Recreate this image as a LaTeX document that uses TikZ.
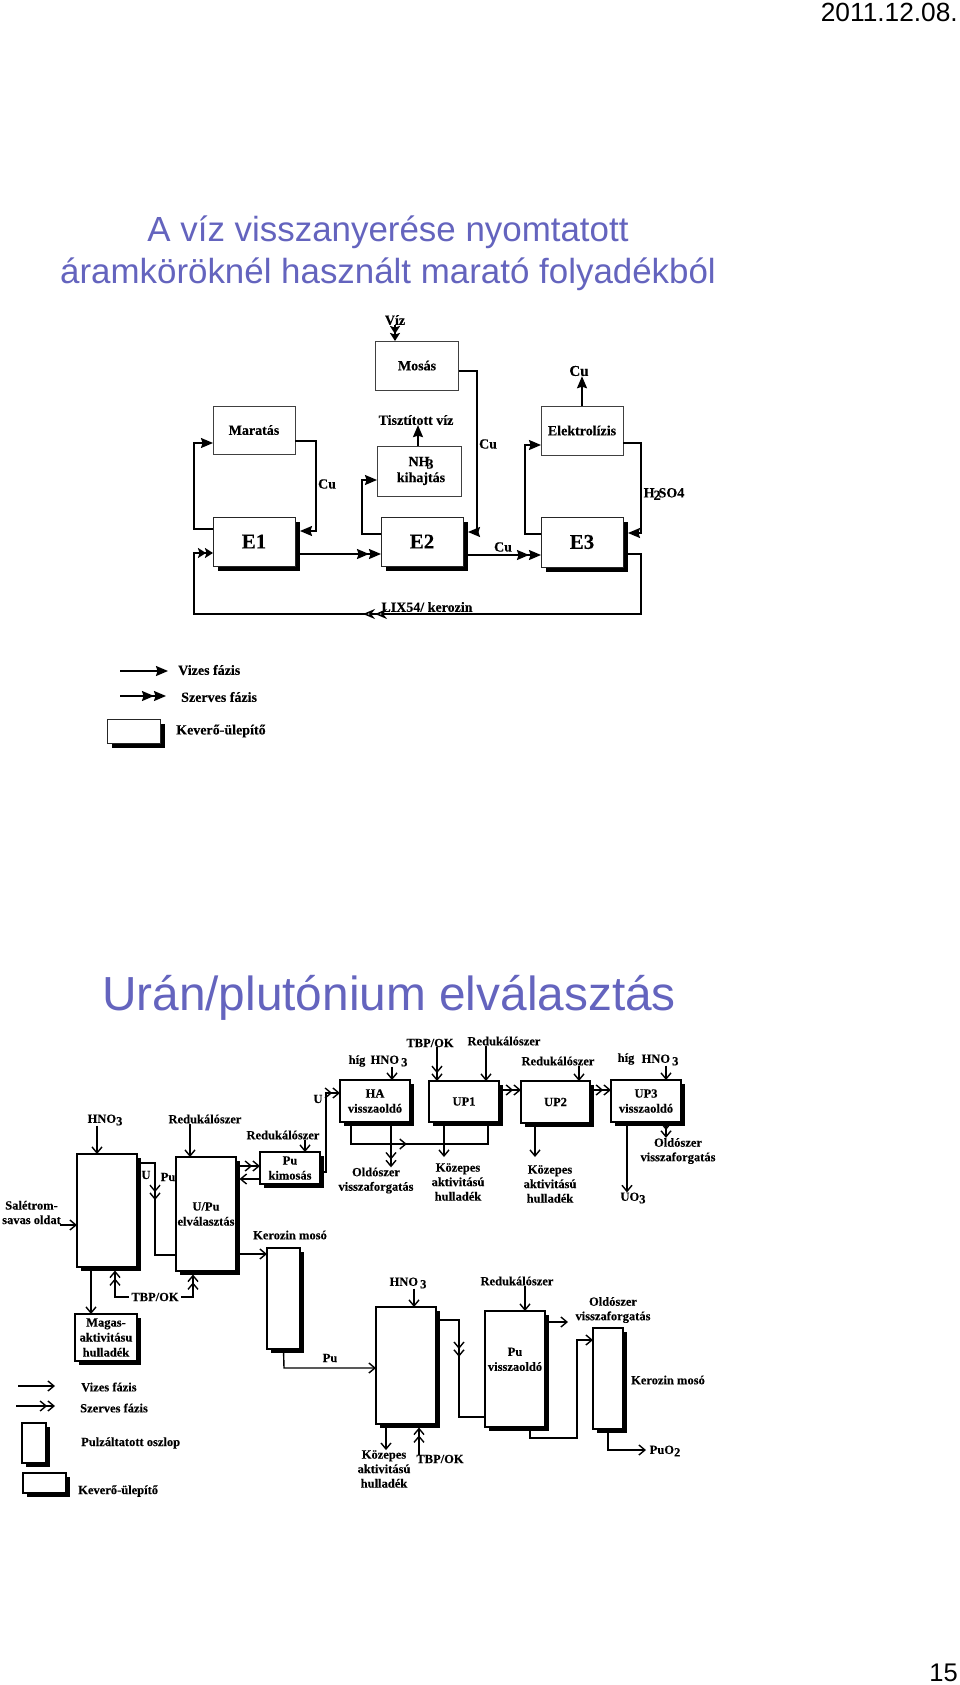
\documentclass[tikz,border=0pt]{standalone}
\usepackage{fontspec}
\setmainfont[BoldFeatures={FakeBold=0.2}]{Liberation Serif}
\newfontfamily\slidefont{Liberation Sans}
\usetikzlibrary{arrows.meta, shadows, decorations.markings}
\definecolor{myviolet}{HTML}{6464BE}
\newcommand{\low}[1]{\raisebox{-2.5pt}{#1}}

\begin{document}
\begin{tikzpicture}[x=1pt, y=-1pt,
  plainbox/.style={draw=black!75, fill=white, line width=0.7pt, inner sep=0pt, outer sep=0pt, align=center,
    minimum width=#1, font=\bfseries\fontsize{14}{16}\selectfont},
  ebox/.style={draw=black!85, fill=white, line width=0.8pt, inner sep=0pt, outer sep=0pt, align=center,
    minimum width=#1, font=\bfseries\fontsize{21}{22}\selectfont,
    general shadow={shadow xshift=5pt, shadow yshift=-5pt, fill=black}},
  box/.style={draw, fill=white, line width=1.2pt, inner sep=0pt, outer sep=0pt, align=center,
    minimum width=#1, font=\bfseries\fontsize{12.5}{15}\selectfont,
    general shadow={shadow xshift=3.5pt, shadow yshift=-3.5pt, fill=black}},
  lab/.style={inner sep=0pt, align=center, font=\bfseries\fontsize{12.5}{14.5}\selectfont},
  toplab/.style={inner sep=0pt, align=center, font=\bfseries\fontsize{14}{16}\selectfont},
  title/.style={inner sep=0pt, text=myviolet, font=\slidefont\fontsize{#1}{#1}\selectfont},
  pageno/.style={inner sep=0pt, font=\slidefont\fontsize{#1}{#1}\selectfont},
  aq/.style={-{Stealth[length=12pt, width=10pt, inset=1.5pt]}, line width=1.6pt},
  org/.style={-{Stealth[length=12pt, width=10pt, inset=1.5pt]Stealth[length=12pt, width=10pt, inset=1.5pt]}, line width=1.6pt},
  orgshort/.style={-{Stealth[length=8pt, width=10pt, inset=1.5pt, sep=-1pt]Stealth[length=8pt, width=10pt, inset=1.5pt]}, line width=1.6pt},
  aqb/.style={-{Straight Barb[length=6pt, width=10pt]}, line width=1.4pt},
  orgb/.style={-{Straight Barb[length=6pt, width=10pt]Straight Barb[length=6pt, width=10pt]}, line width=1.4pt},
  midaq/.style={postaction={decorate, decoration={markings, mark=at position #1 with {\arrow{Straight Barb[length=6pt, width=10pt]}}}}},
  midorg/.style={postaction={decorate, decoration={markings, mark=at position #1 with {\arrow{Straight Barb[length=6pt, width=10pt]Straight Barb[length=6pt, width=10pt]}}}}},
  midsolid/.style={postaction={decorate, decoration={markings, mark=at position #1 with {\arrow{Stealth[length=12pt, width=10pt, open, fill=white]Stealth[length=12pt, width=10pt, open, fill=white]}}}}}
]
\useasboundingbox (0,0) rectangle (960,1685);

% header, titles
\node[pageno=26.3, anchor=east] (date) at (958,12) {2011.12.08.};
\node[pageno=25.5, anchor=east] (pagenum) at (958,1673) {15};
\node[title=34.9] (titleone) at (388,232) {A víz visszanyerése nyomtatott};
\node[title=34.9] (titletwo) at (388,274) {áramköröknél használt marató folyadékból};
\node[title=47.8] (titlethree) at (389,998) {Urán/plutónium elválasztás};

% upper diagram
\node[plainbox=83pt, minimum height=49pt] (mosas) at (417,365.5) {Mosás};
\node[plainbox=82pt, minimum height=48pt] (maratas) at (254,430) {Maratás};
\node[plainbox=84pt, minimum height=50pt] (nhbox) at (419,471) {\kern4pt NH\kern-3pt\low{3}\\\kern4pt kihajtás};
\node[plainbox=82pt, minimum height=49pt] (elektro) at (582,430.5) {Elektrolízis};
\node[ebox=82pt, minimum height=49pt] (eone) at (254,541.5) {E1};
\node[ebox=82pt, minimum height=49pt] (etwo) at (422,541.5) {E2};
\node[ebox=82pt, minimum height=50pt] (ethree) at (582,542) {E3};

\node[toplab] (viz) at (395,320) {Víz};
\node[toplab, font=\bfseries\fontsize{15}{16}\selectfont] (cutop) at (579,371) {Cu};
\node[toplab] (tiszta) at (416,420) {Tisztított víz};
\node[toplab] (cuone) at (327,484) {Cu};
\node[toplab] (cutwo) at (488,444) {Cu};
\node[toplab] (cuthree) at (503,547) {Cu};
\node[toplab] (hso) at (664,494) {H\kern-1pt\low{2}\kern-2pt SO4};
\node[toplab] (lix) at (427,607) {LIX54/ kerozin};

\draw[orgshort] (viz.south -| 395,0) -- (mosas.north -| 395,0);
\draw[aq] (elektro.north -| 582,0) -- (cutop.south -| 582,0);
\draw[aq] (nhbox.north -| 418,0) -- (tiszta.south -| 418,0);
\draw[aq] (mosas.east |- 0,371) -- (477,371) -- (477,532) -- ([xshift=5pt]etwo.east |- 0,532);
\draw[aq] (maratas.east |- 0,441) -- (316,441) -- (316,531) -- ([xshift=5pt]eone.east |- 0,531);
\draw[aq] (elektro.east |- 0,443) -- (641,443) -- (641,533) -- ([xshift=5pt]ethree.east |- 0,533);
\draw[aq] (eone.west |- 0,529) -- (194,529) -- (194,443) -- (maratas.west |- 0,443);
\draw[aq] (etwo.west |- 0,534) -- (362,534) -- (362,480) -- (nhbox.west |- 0,480);
\draw[aq] (ethree.west |- 0,534) -- (525,534) -- (525,445) -- (elektro.west |- 0,445);
\draw[org] ([xshift=5pt]eone.east |- 0,554) -- (etwo.west |- 0,554);
\draw[org] ([xshift=5pt]etwo.east |- 0,555) -- (ethree.west |- 0,555);
\draw[orgshort, midsolid=0.585] ([xshift=5pt]ethree.east |- 0,554) -- (641,554) -- (641,614) -- (194,614) -- (194,553) -- (eone.west |- 0,553);

% upper legend
\node[toplab, anchor=west] (vizesone) at (178,670) {Vizes fázis};
\node[toplab, anchor=west] (szervesone) at (181,697) {Szerves fázis};
\node[ebox=53pt, minimum height=24pt] (mixone) at (133.5,731) {};
\node[toplab, anchor=west] (keveroone) at (176,731) {Keverő-ülepítő};
\coordinate (legaq) at (120,671);
\coordinate (legorg) at (120,696);
\draw[aq] (legaq) -- (168,671);
\draw[org] (legorg) -- (166,696);

% lower diagram, first row
\node[box=60pt, minimum height=113pt] (colone) at (107,1210.5) {};
\node[box=60pt, minimum height=114pt] (uppu) at (206,1214) {U/Pu\\elválasztás};
\node[box=60pt, minimum height=32pt] (pukim) at (290,1168) {Pu\\kimosás};
\node[box=33pt, minimum height=101pt] (kerone) at (283.5,1298.5) {};
\node[box=62pt, minimum height=47pt] (magas) at (106,1337.5) {Magas-\\aktivitásu\\hulladék};
\node[box=70pt, minimum height=42pt] (ha) at (375,1101) {HA\\visszaoldó};
\node[box=70pt, minimum height=41pt] (upone) at (464,1101.5) {UP1};
\node[box=69pt, minimum height=42pt] (uptwo) at (555.5,1102) {UP2};
\node[box=70pt, minimum height=42pt] (upthree) at (646,1101) {UP3\\visszaoldó};

\node[lab] (hnoa) at (105,1120) {HNO\low{3}};
\node[lab] (reda) at (205,1119) {Redukálószer};
\node[lab] (redb) at (283,1135) {Redukálószer};
\node[lab, anchor=west] (salet) at (2,1212.5) {Salétrom-\\savas oldat};
\node[lab] (ulab) at (146,1175) {U};
\node[lab] (pulab) at (168,1177) {Pu};
\node[lab] (ulabtwo) at (318,1099) {U};
\node[lab] (kerlab) at (290,1235) {Kerozin mosó};
\node[lab, inner xsep=2pt] (tbpa) at (155,1297) {TBP/OK};
\node[lab] (higa) at (357,1061) {híg};
\node[lab] (hnob) at (389,1061) {HNO\,\low{3}};
\node[lab] (tbpb) at (430,1043) {TBP/OK};
\node[lab] (redc) at (504,1041) {Redukálószer};
\node[lab] (redd) at (558,1061) {Redukálószer};
\node[lab] (higb) at (626,1059) {híg};
\node[lab] (hnoc) at (660,1060) {HNO\,\low{3}};
\node[lab] (olda) at (376,1180.5) {Oldószer\\visszaforgatás};
\node[lab] (koza) at (458,1182) {Közepes\\aktivitású\\hulladék};
\node[lab] (kozb) at (550,1184) {Közepes\\aktivitású\\hulladék};
\node[lab] (uo) at (633,1198) {UO\low{3}};
\node[lab] (oldb) at (678,1151) {Oldószer\\visszaforgatás};

\draw[aqb] (hnoa.south -| 97,0) -- (colone.north -| 97,0);
\draw[aqb] (reda.south -| 190,0) -- (uppu.north -| 190,0);
\draw[aqb] (redb.south -| 305,0) -- (pukim.north -| 305,0);
\draw[aqb] (salet.east |- 0,1225) ++(-1,0) -- (colone.west |- 0,1225);
\draw[line width=1.4pt, midorg=0.42] (colone.east |- 0,1163) -- (155,1163) -- (155,1255) -- (uppu.west |- 0,1255);
\draw[orgb] (uppu.east |- 0,1166) -- (pukim.west |- 0,1166);
\draw[aqb] (pukim.west |- 0,1179) -- ([xshift=3.5pt]uppu.east |- 0,1179);
\draw[orgb] (pukim.east |- 0,1172) -- (326,1172) -- (326,1093) -- (ha.west |- 0,1093);
\draw[aqb] (uppu.east |- 0,1254) -- (kerone.west |- 0,1254);
\draw[aqb] (colone.south -| 91,0) -- (magas.north -| 91,0);
\draw[orgb] (tbpa.west) -- (115,1297) -- ([yshift=-3.5pt]colone.south -| 115,0);
\draw[orgb] (tbpa.east) -- (193,1297) -- ([yshift=-3.5pt]uppu.south -| 193,0);
\draw[aqb] (hnob.south -| 392,0) -- (ha.north -| 392,0);
\draw[orgb] (tbpb.south -| 437,0) -- (upone.north -| 437,0);
\draw[aqb] (redc.south -| 486,0) -- (upone.north -| 486,0);
\draw[aqb] (redd.south -| 579,0) -- (uptwo.north -| 579,0);
\draw[aqb] (hnoc.south -| 666,0) -- (upthree.north -| 666,0);
\draw[orgb] (upone.east |- 0,1090) -- (uptwo.west |- 0,1090);
\draw[orgb] (uptwo.east |- 0,1090) -- (upthree.west |- 0,1090);
\draw[orgb] (ha.south -| 391,0) -- (olda.north -| 391,0);
\draw[line width=1.4pt, midaq=0.43] (ha.south -| 351,0) -- (351,1144) -- (488,1144) -- (upone.south -| 488,0);
\draw[aqb] (upone.south -| 444,0) -- (444,1157);
\draw[aqb] (uptwo.south -| 535,0) -- (535,1157);
\draw[aqb] (upthree.south -| 627,0) -- (uo.north -| 627,0);
\draw[orgb] (upthree.south -| 666,0) -- (oldb.north -| 666,0);

% lower diagram, second row
\node[box=60pt, minimum height=117pt] (coltwo) at (406,1365.5) {};
\node[box=60pt, minimum height=116pt] (puvis) at (515,1369) {Pu\\visszaoldó\\\strut};
\node[box=30pt, minimum height=101pt] (kertwo) at (608,1378.5) {};

\node[lab] (pulabb) at (330,1358) {Pu};
\node[lab] (hnod) at (408,1283) {HNO\,\low{3}};
\node[lab] (rede) at (517,1281) {Redukálószer};
\node[lab] (oldc) at (613,1310) {Oldószer\\visszaforgatás};
\node[lab] (kerlabb) at (668,1380) {Kerozin mosó};
\node[lab] (puo) at (665,1451) {PuO\low{2}};
\node[lab] (kozc) at (384,1469) {Közepes\\aktivitású\\hulladék};
\node[lab] (tbpc) at (440,1459) {TBP/OK};

\draw[aqb] (kerone.south) -- (284,1368) -- (coltwo.west |- 0,1368);
\draw[aqb] (hnod.south -| 414,0) -- (coltwo.north -| 414,0);
\draw[aqb] (rede.south -| 525,0) -- (puvis.north -| 525,0);
\draw[line width=1.4pt, midorg=0.41] (coltwo.east |- 0,1320) -- (459,1320) -- (459,1417) -- (puvis.west |- 0,1417);
\draw[aqb] ([xshift=3.5pt]puvis.east |- 0,1322) -- (568,1322);
\draw[aqb] (puvis.south -| 530,0) -- (530,1438) -- (577,1438) -- (577,1340) -- (kertwo.west |- 0,1340);
\draw[aqb] (kertwo.south) -- (608,1450) -- (646,1450);
\draw[aqb] (coltwo.south -| 386,0) -- (kozc.north -| 386,0);
\draw[orgb] (tbpc.north -| 419,0) -- ([yshift=-3.5pt]coltwo.south -| 419,0);

% lower legend
\node[lab, anchor=west] (vizestwo) at (81,1387) {Vizes fázis};
\node[lab, anchor=west] (szervestwo) at (80,1408) {Szerves fázis};
\node[lab, anchor=west] (pulz) at (81,1443) {Pulzáltatott oszlop};
\node[lab, anchor=west] (keverotwo) at (78,1491) {Keverő-ülepítő};
\node[box=24pt, minimum height=40pt] (pulsebox) at (34,1443) {};
\node[box=43pt, minimum height=20pt] (mixtwo) at (44.5,1483) {};
\coordinate (legaqb) at (18,1386);
\coordinate (legorgb) at (16,1406);
\draw[aqb] (legaqb) -- (55,1386);
\draw[orgb] (legorgb) -- (55,1406);
\end{tikzpicture}
\end{document}
